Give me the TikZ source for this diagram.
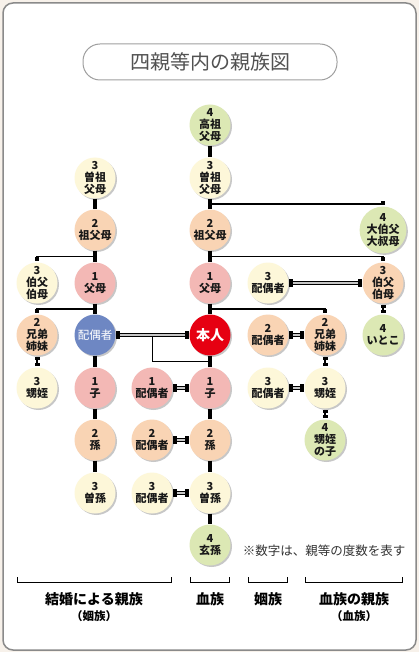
\documentclass[tikz,border=0pt]{standalone}
\usepackage{fontspec}
\setmainfont{Noto Sans CJK JP}
\usetikzlibrary{shadows,arrows.meta,calc,decorations.markings}
\definecolor{cgreen}{HTML}{DCE8B4}
\definecolor{ccream}{HTML}{FDF7D9}
\definecolor{cpeach}{HTML}{F9D4B4}
\definecolor{cpink}{HTML}{F3B8B5}
\definecolor{cblue}{HTML}{6E87C3}
\definecolor{cred}{HTML}{E60012}
\definecolor{frameg}{HTML}{8A8A8A}
\definecolor{bgout}{HTML}{F7F1EA}
\tikzset{
  person/.style={circle, minimum size=41pt, inner sep=0pt, align=center,
    font=\bfseries\fontsize{11}{12}\selectfont, text=black!90,
    drop shadow={shadow xshift=1.5pt, shadow yshift=-1.5pt, fill=black, opacity=0.22}},
  deg4/.style={person, fill=cgreen},
  deg3/.style={person, fill=ccream},
  deg2/.style={person, fill=cpeach},
  deg1/.style={person, fill=cpink},
  trunk/.style={line width=3.5pt, black},
  branch/.style={line width=1.8pt, black, -{Square[length=4pt,width=4.5pt]}, shorten >=1pt},
  link/.style={line width=1.8pt, black, {Square[length=3.5pt,width=5pt]}-{Square[length=3.5pt,width=5pt]}, shorten >=1pt, shorten <=1pt},
  thinlink/.style={line width=1.5pt, black},
  spouseline/.style={line width=1pt, draw=black, double=gray!45, double distance=1.6pt,
    shorten <=1pt, shorten >=1pt,
    postaction={decorate, decoration={markings,
      mark=at position 0 with {\fill[black] (0pt,-4pt) rectangle (4.5pt,4pt);},
      mark=at position 1 with {\fill[black] (-4.5pt,-4pt) rectangle (0pt,4pt);}}}},
  bracket/.style={line width=1pt, black},
  blabel/.style={font=\bfseries\fontsize{14}{15}\selectfont, text=black},
  bsub/.style={font=\bfseries\fontsize{11.5}{12}\selectfont, text=black},
}
\newcommand{\dg}[1]{\textbf{#1}}
\begin{document}
\begin{tikzpicture}[x=1pt, y=-1pt]
\useasboundingbox (0,0) rectangle (419,652);
\fill[bgout] (0,0) rectangle (419,652);
\draw[frameg, line width=1.5pt, fill=white, rounded corners=10pt] (3,3) rectangle (416,650);
% title
\node[draw=gray!75, line width=1pt, rounded corners=17pt, minimum width=254pt, minimum height=36pt,
  fill=white, text=black!68, font=\fontsize{20}{22}\selectfont] (title) at (210,62) {四親等内の親族図};

% column B (spouse's line)
\node[deg3] (ggpL) at (95,178) {\dg{3}\\曽祖\\父母};
\node[deg2] (gpL)  at (95,230) {\dg{2}\\祖父母};
\node[deg1] (pL)   at (95,283) {\dg{1}\\父母};
\node[person, fill=cblue, text=white, font=\fontsize{11.5}{12}\selectfont] (spouse) at (95,335) {配偶者};
\node[deg1] (cL)   at (95,388) {\dg{1}\\子};
\node[deg2] (gcL)  at (95,440) {\dg{2}\\孫};
\node[deg3] (ggcL) at (95,493) {\dg{3}\\曽孫};
% column A
\node[deg3] (uncleL) at (37,283) {\dg{3}\\伯父\\伯母};
\node[deg2] (sibL)   at (37,335) {\dg{2}\\兄弟\\姉妹};
\node[deg3] (nephL)  at (37,388) {\dg{3}\\甥姪};
% column C
\node[deg1] (sp1) at (152,388) {\dg{1}\\配偶者};
\node[deg2] (sp2) at (152,440) {\dg{2}\\配偶者};
\node[deg3] (sp3) at (152,493) {\dg{3}\\配偶者};
% column D
\node[deg4] (gggp) at (210,125) {\dg{4}\\高祖\\父母};
\node[deg3] (ggp)  at (210,178) {\dg{3}\\曽祖\\父母};
\node[deg2] (gp)   at (210,230) {\dg{2}\\祖父母};
\node[deg1] (p)    at (210,283) {\dg{1}\\父母};
\node[person, fill=cred, text=white, font=\bfseries\fontsize{14}{15}\selectfont] (self) at (210,335) {本人};
\node[deg1] (c)    at (210,388) {\dg{1}\\子};
\node[deg2] (gc)   at (210,440) {\dg{2}\\孫};
\node[deg3] (ggc)  at (210,493) {\dg{3}\\曽孫};
\node[deg4] (gggc) at (210,545) {\dg{4}\\玄孫};
% column E
\node[deg3] (spU) at (268,283) {\dg{3}\\配偶者};
\node[deg2] (spS) at (268,335) {\dg{2}\\配偶者};
\node[deg3] (spN) at (268,388) {\dg{3}\\配偶者};
% column F
\node[deg2] (sib)   at (325,335) {\dg{2}\\兄弟\\姉妹};
\node[deg3] (neph)  at (325,388) {\dg{3}\\甥姪};
\node[deg4] (nephc) at (325,440) {\dg{4}\\甥姪\\の子};
% column G
\node[deg4] (guncle) at (383,230) {\dg{4}\\大伯父\\大叔母};
\node[deg2] (uncle)  at (383,283) {\dg{3}\\伯父\\伯母};
\node[deg4] (cousin) at (383,335) {\dg{4}\\いとこ};

% trunks
\draw[trunk] (ggpL) -- (gpL);
\draw[trunk] (gpL) -- (pL);
\draw[trunk] (pL) -- (spouse);
\draw[trunk] (spouse) -- (cL);
\draw[trunk] (cL) -- (gcL);
\draw[trunk] (gcL) -- (ggcL);
\draw[trunk] (gggp) -- (ggp);
\draw[trunk] (ggp) -- (gp);
\draw[trunk] (gp) -- (p);
\draw[trunk] (p) -- (self);
\draw[trunk] (self) -- (c);
\draw[trunk] (c) -- (gc);
\draw[trunk] (gc) -- (ggc);
\draw[trunk] (ggc) -- (gggc);

% branches
\draw[branch] ($(gpL)!.5!(pL)$) -| (uncleL.north);
\draw[branch] ($(pL)!.5!(spouse)$) -| (sibL.north);
\draw[branch] ($(ggp)!.5!(gp)$) -| (guncle.north);
\draw[branch] ($(gp)!.5!(p)$) -| (uncle.north);
\draw[branch] ($(p)!.5!(self)$) -| (sib.north);

% short links
\draw[link] (sibL) -- (nephL);
\draw[link] (sib) -- (neph);
\draw[link] (neph) -- (nephc);
\draw[link] (uncle) -- (cousin);

% spouse links
\draw[spouseline] (spouse) -- (self);
\draw[thinlink] ($(spouse)!.5!(self)$) ++(0,1.5) |- ($(self)!.5!(c)$);
\draw[spouseline] (sp1) -- (c);
\draw[spouseline] (sp2) -- (gc);
\draw[spouseline] (sp3) -- (ggc);
\draw[spouseline] (spU) -- (uncle);
\draw[spouseline] (spS) -- (sib);
\draw[spouseline] (spN) -- (neph);

% note
\node[text=black!80, font=\fontsize{12.5}{14}\selectfont] (note) at (324,551) {※数字は、親等の度数を表す};

% brackets
\coordinate (b1l) at (17,582); \coordinate (b1r) at (171,582);
\coordinate (b2l) at (190,582); \coordinate (b2r) at (229,582);
\coordinate (b3l) at (248,582); \coordinate (b3r) at (287,582);
\coordinate (b4l) at (305,582); \coordinate (b4r) at (402,582);
\draw[bracket] (b1l) ++(0,-5) -- (b1l) -- (b1r) -- ++(0,-5);
\draw[bracket] (b2l) ++(0,-5) -- (b2l) -- (b2r) -- ++(0,-5);
\draw[bracket] (b3l) ++(0,-5) -- (b3l) -- (b3r) -- ++(0,-5);
\draw[bracket] (b4l) ++(0,-5) -- (b4l) -- (b4r) -- ++(0,-5);
\node[blabel] (l1) at (94,599) {結婚による親族};
\node[bsub] (l1s) at (94,616) {（姻族）};
\node[blabel] (l2) at (210,599) {血族};
\node[blabel] (l3) at (268,599) {姻族};
\node[blabel] (l4) at (354,599) {血族の親族};
\node[bsub] (l4s) at (354,616) {（血族）};
\end{tikzpicture}
\end{document}
